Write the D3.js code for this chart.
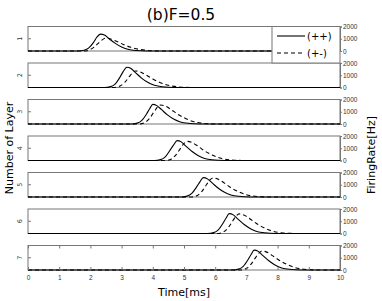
<!DOCTYPE html>
<html>
<head>
<meta charset="utf-8">
<style>
  body { margin: 0; background: white; }
  svg { display: block; font-family: "DejaVu Sans", sans-serif; }
  .tick text { font-size: 6.5px; fill: #333; }
  .frame { fill: none; stroke: #777; stroke-width: 1; }
</style>
</head>
<body>
<svg width="382" height="301"></svg>
<script src="https://d3js.org/d3.v7.min.js"></script>
<script>
// layers and tick labels
const layers = [1, 2, 3, 4, 5, 6, 7]
const timeTicks = [0, 1, 2, 3, 4, 5, 6, 7, 8, 9, 10]
const rateTicks = [0, 1000, 2000]

// firing rate curves [time ms, rate Hz], (++) solid
const solidCurves = [
  [[0,0],[1.6,0],[1.8,60],[1.95,250],[2.1,700],[2.2,1100],[2.32,1380],[2.45,1300],[2.6,1000],[2.8,620],[3.0,320],[3.2,140],[3.45,40],[3.8,5],[10,0]],
  [[0,0],[2.45,0],[2.65,70],[2.8,300],[2.95,850],[3.05,1300],[3.17,1650],[3.3,1550],[3.45,1200],[3.65,750],[3.85,400],[4.05,180],[4.3,60],[4.7,5],[10,0]],
  [[0,0],[3.3,0],[3.5,70],[3.65,300],[3.8,820],[3.9,1250],[4.0,1600],[4.13,1500],[4.28,1170],[4.48,720],[4.68,380],[4.88,170],[5.13,55],[5.5,5],[10,0]],
  [[0,0],[4.05,0],[4.25,70],[4.4,300],[4.55,830],[4.67,1270],[4.78,1620],[4.91,1520],[5.06,1180],[5.26,730],[5.46,390],[5.66,170],[5.9,55],[6.3,5],[10,0]],
  [[0,0],[4.9,0],[5.1,70],[5.25,290],[5.4,810],[5.51,1240],[5.62,1580],[5.75,1480],[5.9,1150],[6.1,710],[6.3,380],[6.5,170],[6.75,55],[7.1,5],[10,0]],
  [[0,0],[5.75,0],[5.95,70],[6.1,300],[6.25,830],[6.35,1270],[6.45,1620],[6.58,1520],[6.73,1180],[6.93,730],[7.13,390],[7.33,170],[7.58,55],[7.95,5],[10,0]],
  [[0,0],[6.55,0],[6.75,70],[6.9,300],[7.05,830],[7.15,1270],[7.25,1620],[7.38,1520],[7.53,1180],[7.73,730],[7.93,390],[8.13,170],[8.38,55],[8.75,5],[10,0]]
]

// (+-) dashed
const dashedCurves = [
  [[0,0],[1.8,0],[2.0,120],[2.15,380],[2.3,750],[2.4,950],[2.5,1050],[2.65,980],[2.85,780],[3.05,540],[3.3,300],[3.55,140],[3.85,45],[4.2,5],[10,0]],
  [[0,0],[2.75,0],[2.95,120],[3.1,420],[3.25,900],[3.35,1200],[3.45,1350],[3.6,1270],[3.8,1000],[4.0,700],[4.25,390],[4.5,180],[4.8,55],[5.2,5],[10,0]],
  [[0,0],[3.55,0],[3.75,130],[3.9,480],[4.05,1030],[4.15,1380],[4.25,1550],[4.4,1460],[4.6,1150],[4.8,800],[5.05,450],[5.3,200],[5.6,60],[6.0,5],[10,0]],
  [[0,0],[4.4,0],[4.6,130],[4.75,480],[4.9,1040],[5.0,1390],[5.1,1560],[5.25,1470],[5.45,1160],[5.65,800],[5.9,450],[6.15,200],[6.45,60],[6.85,5],[10,0]],
  [[0,0],[5.23,0],[5.43,130],[5.58,480],[5.73,1040],[5.83,1390],[5.93,1560],[6.08,1470],[6.28,1160],[6.48,800],[6.73,450],[6.98,200],[7.28,60],[7.68,5],[10,0]],
  [[0,0],[6.07,0],[6.27,135],[6.42,490],[6.57,1060],[6.67,1420],[6.77,1600],[6.92,1510],[7.12,1190],[7.32,820],[7.57,460],[7.82,205],[8.12,60],[8.52,5],[10,0]],
  [[0,0],[6.8,0],[7.0,130],[7.15,480],[7.3,1030],[7.4,1380],[7.5,1550],[7.65,1460],[7.85,1150],[8.05,800],[8.3,450],[8.55,200],[8.85,60],[9.25,5],[10,0]]
]

let svg = d3.select("svg")

let left = 28, right = 340
let top0 = 26.5, step = 36.5, panelH = 24.5

let x = d3.scaleLinear().domain([0, 10]).range([left, right])

layers.forEach(function (layer, i) {
  let top = top0 + i * step
  let bottom = top + panelH
  let y = d3.scaleLinear().domain([0, 2000]).range([bottom, top])
  let g = svg.append("g")

  g.append("rect")
    .attr("class", "frame")
    .attr("x", left)
    .attr("y", top)
    .attr("width", right - left)
    .attr("height", panelH)

  let line = d3.line()
    .x(d => x(d[0]))
    .y(d => y(d[1]))
    .curve(d3.curveMonotoneX)

  g.append("path")
    .attr("d", line(dashedCurves[i]))
    .attr("fill", "none")
    .attr("stroke", "black")
    .attr("stroke-width", 1.1)
    .attr("stroke-dasharray", "4,3")

  g.append("path")
    .attr("d", line(solidCurves[i]))
    .attr("fill", "none")
    .attr("stroke", "black")
    .attr("stroke-width", 1.1)

  // right rate axis
  g.append("g")
    .attr("transform", `translate(${right},0)`)
    .call(d3.axisRight(y).tickValues(rateTicks).tickSize(2).tickPadding(1).tickFormat(d3.format("d")))
    .call(a => a.select(".domain").attr("stroke", "#777"))
    .call(a => a.selectAll(".tick line").attr("stroke", "#777"))

  // left layer label, rotated
  g.append("line")
    .attr("x1", left).attr("x2", left + 3)
    .attr("y1", (top + bottom) / 2).attr("y2", (top + bottom) / 2)
    .attr("stroke", "#777")
  g.append("text")
    .attr("transform", `translate(${left - 8},${(top + bottom) / 2}) rotate(-90)`)
    .attr("text-anchor", "middle")
    .attr("dy", "0.35em")
    .style("font-size", "6.5px")
    .style("fill", "#333")
    .text(layer)

  if (i == layers.length - 1) {
    let xa = d3.axisBottom(x).tickValues(timeTicks).tickSize(-3).tickPadding(5)
    g.append("g")
      .attr("transform", `translate(0,${bottom})`)
      .call(xa)
      .call(a => a.select(".domain").remove())
      .call(a => a.selectAll(".tick line").attr("stroke", "#777"))
    g.append("g")
      .attr("transform", `translate(0,${top})`)
      .call(d3.axisTop(x).tickValues(timeTicks).tickSize(-3).tickFormat(""))
      .call(a => a.select(".domain").remove())
      .call(a => a.selectAll(".tick line").attr("stroke", "#777"))
  }
})

// legend box
let lg = svg.append("g")
lg.append("rect")
  .attr("x", 272).attr("y", top0)
  .attr("width", right - 272).attr("height", 63 - top0)
  .attr("fill", "white").attr("stroke", "#777")
lg.append("line")
  .attr("x1", 277).attr("x2", 305).attr("y1", 36).attr("y2", 36)
  .attr("stroke", "black").attr("stroke-width", 1.1)
lg.append("line")
  .attr("x1", 277).attr("x2", 305).attr("y1", 53).attr("y2", 53)
  .attr("stroke", "black").attr("stroke-width", 1.1).attr("stroke-dasharray", "4,3")
lg.append("text").attr("x", 307).attr("y", 39.5)
  .style("font-size", "10px").text("(++)")
lg.append("text").attr("x", 307).attr("y", 56.5)
  .style("font-size", "10px").text("(+-)")

// titles
svg.append("text")
  .attr("x", 181).attr("y", 20)
  .attr("text-anchor", "middle")
  .style("font-size", "15.5px")
  .text("(b)F=0.5")

svg.append("text")
  .attr("x", 184).attr("y", 296)
  .attr("text-anchor", "middle")
  .style("font-size", "11px")
  .text("Time[ms]")

svg.append("text")
  .attr("transform", "translate(13,148) rotate(-90)")
  .attr("text-anchor", "middle")
  .style("font-size", "11px")
  .text("Number of Layer")

svg.append("text")
  .attr("transform", "translate(375,155) rotate(-90)")
  .attr("text-anchor", "middle")
  .style("font-size", "11px")
  .text("FiringRate[Hz]")
</script>
</body>
</html>
